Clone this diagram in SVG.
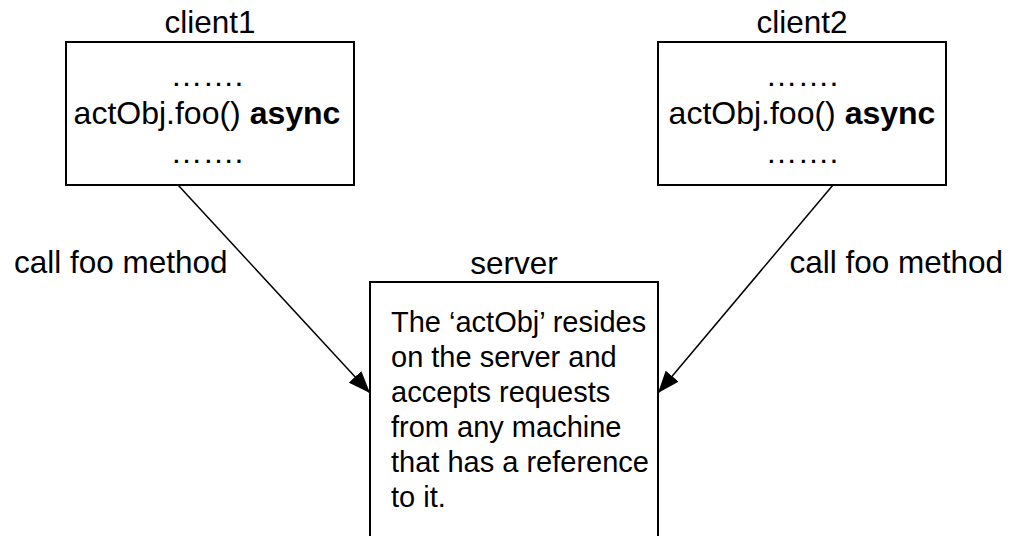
<svg xmlns="http://www.w3.org/2000/svg" width="1016" height="536" viewBox="0 0 1016 536">
  <style>
    text { font-family: "Liberation Sans", Arial, sans-serif; fill: #000; }
    .label { font-size: 31.5px; }
    .code { font-size: 32px; text-anchor: middle; }
    .body { font-size: 29px; }
    .box { fill: #fff; stroke: #000; stroke-width: 2; }
    .conn { stroke: #000; stroke-width: 1.5; fill: none; marker-end: url(#arrow); }
    .bold { font-weight: bold; }
  </style>
  <defs>
    <marker id="arrow" markerUnits="userSpaceOnUse" markerWidth="22" markerHeight="17" refX="22" refY="8.5" orient="auto">
      <path d="M0,0 L22,8.5 L0,17 Z" fill="#000"/>
    </marker>
  </defs>

  <rect width="1016" height="536" fill="#fff"/>

  <!-- client 1 -->
  <g id="client1">
    <text class="label" x="210" y="33" text-anchor="middle">client1</text>
    <rect class="box" x="66" y="42" width="288" height="143"/>
    <text class="code" x="207" y="86">…….</text>
    <text class="code" x="207" y="124">actObj.foo() <tspan class="bold">async</tspan></text>
    <text class="code" x="207" y="163">…….</text>
  </g>

  <!-- client 2 -->
  <g id="client2">
    <text class="label" x="802" y="33" text-anchor="middle">client2</text>
    <rect class="box" x="658" y="42" width="288" height="143"/>
    <text class="code" x="802" y="86">…….</text>
    <text class="code" x="802" y="124">actObj.foo() <tspan class="bold">async</tspan></text>
    <text class="code" x="802" y="163">…….</text>
  </g>

  <!-- server -->
  <g id="server">
    <text class="label" x="514" y="274" text-anchor="middle">server</text>
    <rect class="box" x="370" y="282" width="288" height="270"/>
    <text class="body" x="391">
      <tspan x="391" y="332">The ‘actObj’ resides</tspan>
      <tspan x="391" y="367">on the server and</tspan>
      <tspan x="391" y="402">accepts requests</tspan>
      <tspan x="391" y="437">from any machine</tspan>
      <tspan x="391" y="472">that has a reference</tspan>
      <tspan x="391" y="507">to it.</tspan>
    </text>
  </g>

  <!-- calls from the clients to the server -->
  <g id="connectors">
    <line class="conn" x1="178" y1="185" x2="370" y2="393"/>
    <line class="conn" x1="833" y1="185" x2="658" y2="393"/>
    <text class="label" x="14" y="273">call foo method</text>
    <text class="label" x="1003" y="273" text-anchor="end">call foo method</text>
  </g>
</svg>
